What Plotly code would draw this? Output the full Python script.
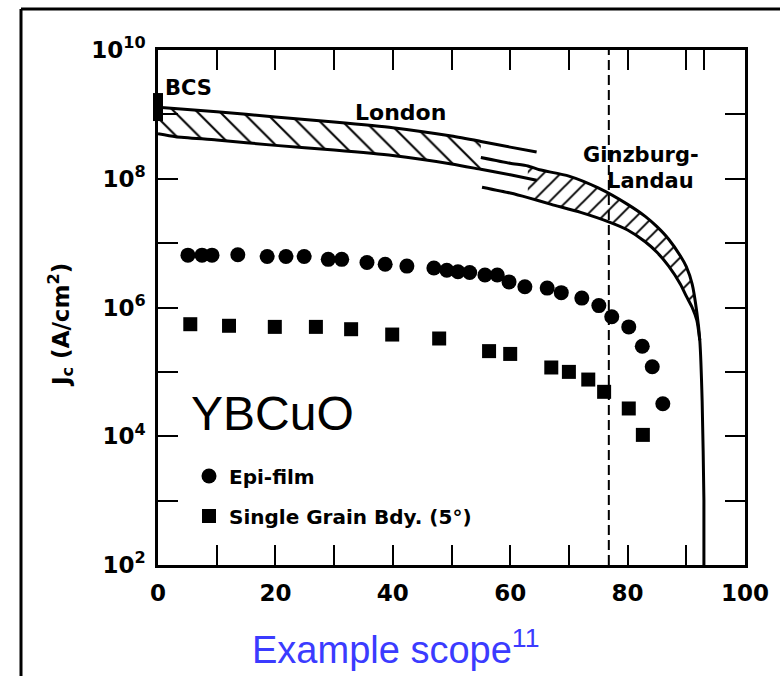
import plotly.graph_objects as go

# ---------------- data ----------------
# Epi-film (circles): temperature (K), Jc (A/cm^2)
epi_T = [5.1, 7.5, 9.2, 13.6, 18.6, 21.8, 24.9, 29.0, 31.3, 35.6, 38.7, 42.4, 47.0, 49.2,
         51.1, 53.1, 55.7, 57.8, 59.8, 62.5, 66.3, 68.7, 72.2, 75.1, 77.3, 80.2, 82.5, 84.2, 86.0]
epi_Jc = [6.5e6, 6.5e6, 6.5e6, 6.6e6, 6.2e6, 6.2e6, 6.2e6, 5.6e6, 5.6e6, 5.0e6, 4.7e6, 4.4e6,
          4.1e6, 3.8e6, 3.6e6, 3.5e6, 3.2e6, 3.2e6, 2.5e6, 2.1e6, 2.0e6, 1.7e6, 1.4e6, 1.07e6,
          7.2e5, 5.0e5, 2.5e5, 1.2e5, 3.2e4]

# Single grain boundary (5 deg) (squares)
gb_T = [5.5, 12.1, 19.9, 26.9, 32.9, 39.9, 47.9, 56.4, 60.0, 67.0, 70.0, 73.3, 76.0, 80.2, 82.6]
gb_Jc = [5.5e5, 5.2e5, 5.0e5, 5.0e5, 4.6e5, 3.8e5, 3.3e5, 2.1e5, 1.9e5, 1.17e5, 1.0e5, 7.6e4,
         4.9e4, 2.7e4, 1.05e4]

# BCS limit at T = 0
bcs_T = [0]
bcs_Jc = [1.3e9]

# London band
london_T_up = [0, 10, 20, 30, 40, 50, 55, 60, 64.5]
london_J_up = [1.29e9, 1.10e9, 9.1e8, 7.6e8, 6.2e8, 4.6e8, 3.8e8, 3.1e8, 2.6e8]
london_T_lo = [0, 3, 10, 20, 30, 40, 50, 55, 60, 64.5]
london_J_lo = [5.0e8, 4.5e8, 4.0e8, 3.3e8, 2.8e8, 2.3e8, 1.7e8, 1.4e8, 1.15e8, 9.5e7]
london_hatch_end = 55

# Ginzburg-Landau band
gl_T_up = [55, 60, 63, 65, 70, 75, 80, 83, 85, 87, 89, 90, 91, 91.8, 92.3, 92.7, 93.0, 93.0]
gl_J_up = [2.14e8, 1.74e8, 1.58e8, 1.38e8, 1.10e8, 7.2e7, 4.0e7, 2.6e7, 1.8e7, 1.15e7, 6.3e6,
           4.3e6, 2.3e6, 8.3e5, 3.1e5, 3.5e4, 1.0e3, 1.0e2]
gl_T_lo = [55.2, 60, 63, 67, 72, 77, 80, 83, 85, 87, 89, 90, 91, 91.8, 92.3]
gl_J_lo = [7.4e7, 6.0e7, 5.1e7, 4.0e7, 3.0e7, 2.1e7, 1.6e7, 1.05e7, 7.2e6, 4.4e6, 2.3e6,
           1.5e6, 1.0e6, 6.3e5, 3.1e5]
gl_hatch_start = 63

# dashed vertical line (T = 76.8 K)
dash_T = 76.8
y_range = [1e2, 1e10]

x_tickvals = [0, 10, 20, 30, 40, 50, 60, 70, 80, 90, 93, 100]
x_ticktext = ["0", "", "20", "", "40", "", "60", "", "80", "", "", "100"]
y_tickvals = [1e2, 1e3, 1e4, 1e5, 1e6, 1e7, 1e8, 1e9, 1e10]
y_ticktext = ["10<sup>2</sup>", "", "10<sup>4</sup>", "", "10<sup>6</sup>", "",
              "10<sup>8</sup>", "", "10<sup>10</sup>"]

# ---------------- figure ----------------
W, H = 780, 676
L, R, T, B = 158, 35, 50, 111
pw, ph = W - L - R, H - T - B


def px(x):
    return (x - L) / pw


def py(y):
    return (H - B - y) / ph


fig = go.Figure()
lab_font = dict(family="DejaVu Sans", size=23, color="black", weight="bold")

# London hatch polygon
lu = [(t, j) for t, j in zip(london_T_up, london_J_up) if t <= london_hatch_end]
ll = [(t, j) for t, j in zip(london_T_lo, london_J_lo) if t <= london_hatch_end]
poly = lu + ll[::-1]
fig.add_trace(go.Scatter(
    x=[p[0] for p in poly] + [poly[0][0]], y=[p[1] for p in poly] + [poly[0][1]],
    mode="none", fill="toself", fillcolor="white",
    fillpattern=dict(shape="\\", fgcolor="black", fgopacity=1, bgcolor="white",
                     size=16, solidity=0.13),
    showlegend=False, hoverinfo="skip"))

# GL hatch polygon
gu = [(t, j) for t, j in zip(gl_T_up, gl_J_up) if t >= gl_hatch_start and t <= gl_T_lo[-1]]
gl = [(t, j) for t, j in zip(gl_T_lo, gl_J_lo) if t >= gl_hatch_start]
poly = gu + gl[::-1]
fig.add_trace(go.Scatter(
    x=[p[0] for p in poly] + [poly[0][0]], y=[p[1] for p in poly] + [poly[0][1]],
    mode="none", fill="toself", fillcolor="white",
    fillpattern=dict(shape="/", fgcolor="black", fgopacity=1, bgcolor="white",
                     size=12, solidity=0.16),
    showlegend=False, hoverinfo="skip"))

line_style = dict(color="black", width=3)
for xs, ys in [(london_T_up, london_J_up), (london_T_lo, london_J_lo),
               (gl_T_up, gl_J_up), (gl_T_lo, gl_J_lo)]:
    fig.add_trace(go.Scatter(x=xs, y=ys, mode="lines",
                             line=dict(line_style, shape="spline", smoothing=0.6),
                             showlegend=False, hoverinfo="skip"))

# dashed line
fig.add_trace(go.Scatter(x=[dash_T, dash_T], y=y_range, mode="lines",
                         line=dict(color="black", width=2, dash="10px,5px"),
                         showlegend=False, hoverinfo="skip"))

# BCS block
fig.add_trace(go.Scatter(x=bcs_T, y=bcs_Jc, mode="markers",
                         marker=dict(symbol="line-ns-open", size=20, color="black",
                                     line=dict(color="black", width=10)),
                         showlegend=False, hoverinfo="skip", cliponaxis=False))

fig.add_trace(go.Scatter(x=epi_T, y=epi_Jc, mode="markers", name="Epi-film",
                         marker=dict(symbol="circle", size=15, color="black"),
                         legend="legend"))
fig.add_trace(go.Scatter(x=gb_T, y=gb_Jc, mode="markers", name="Single Grain Bdy. (5°)",
                         marker=dict(symbol="square", size=14, color="black"),
                         legend="legend2"))

axis_common = dict(showline=True, linecolor="black", linewidth=2.5, mirror="ticks",
                   ticks="inside", ticklen=20, tickwidth=2, tickcolor="black",
                   showgrid=False, zeroline=False, tickfont=lab_font)

fig.update_xaxes(range=[0, 100], tickvals=x_tickvals, ticktext=x_ticktext,
                 ticklabelstandoff=6, **axis_common)
fig.update_yaxes(type="log", range=[2, 10], tickvals=y_tickvals, ticktext=y_ticktext,
                 ticklabelstandoff=5, **axis_common)

leg_font = dict(family="DejaVu Sans", size=20, color="black", weight="bold")
fig.update_layout(
    width=W, height=H, margin=dict(l=L, r=R, t=T, b=B),
    paper_bgcolor="white", plot_bgcolor="white",
    legend=dict(x=px(189), y=py(476), xanchor="left", yanchor="middle",
                font=leg_font, bgcolor="rgba(0,0,0,0)", itemsizing="trace"),
    legend2=dict(x=px(189), y=py(516), xanchor="left", yanchor="middle",
                 font=leg_font, bgcolor="rgba(0,0,0,0)", itemsizing="trace"),
)

ann = [
    dict(x=px(163), y=py(88), text="BCS", xanchor="left", font=dict(lab_font, size=21)),
    dict(x=px(400), y=py(112), text="London", font=dict(lab_font, size=22)),
    dict(x=px(641), y=py(155), text="Ginzburg-", font=dict(lab_font, size=21)),
    dict(x=px(650), y=py(181), text="Landau", font=dict(lab_font, size=21)),
    dict(x=px(272), y=py(413), text="YBCuO",
         font=dict(family="Liberation Sans", size=48, color="black")),
    dict(x=px(60), y=py(325), text="J<sub>c</sub> (A/cm<sup>2</sup>)", textangle=-90,
         font=dict(lab_font, size=23)),
    dict(x=px(395), y=py(647), text="Example scope<sup>11</sup>",
         font=dict(family="Liberation Sans", size=38, color="#3b3bff")),
]
for a in ann:
    a.setdefault("xanchor", "center")
    a.update(xref="paper", yref="paper", showarrow=False, yanchor="middle")
    fig.add_annotation(**a)

# outer frame (top and left edges)
fig.add_shape(type="line", xref="paper", yref="paper", x0=px(21), x1=px(790), y0=py(9), y1=py(9),
              line=dict(color="black", width=3))
fig.add_shape(type="line", xref="paper", yref="paper", x0=px(21), x1=px(21), y0=py(9), y1=py(690),
              line=dict(color="black", width=3))

fig.write_html("out.html", config={"displayModeBar": False},
               post_script="document.body.style.margin='0px';")
